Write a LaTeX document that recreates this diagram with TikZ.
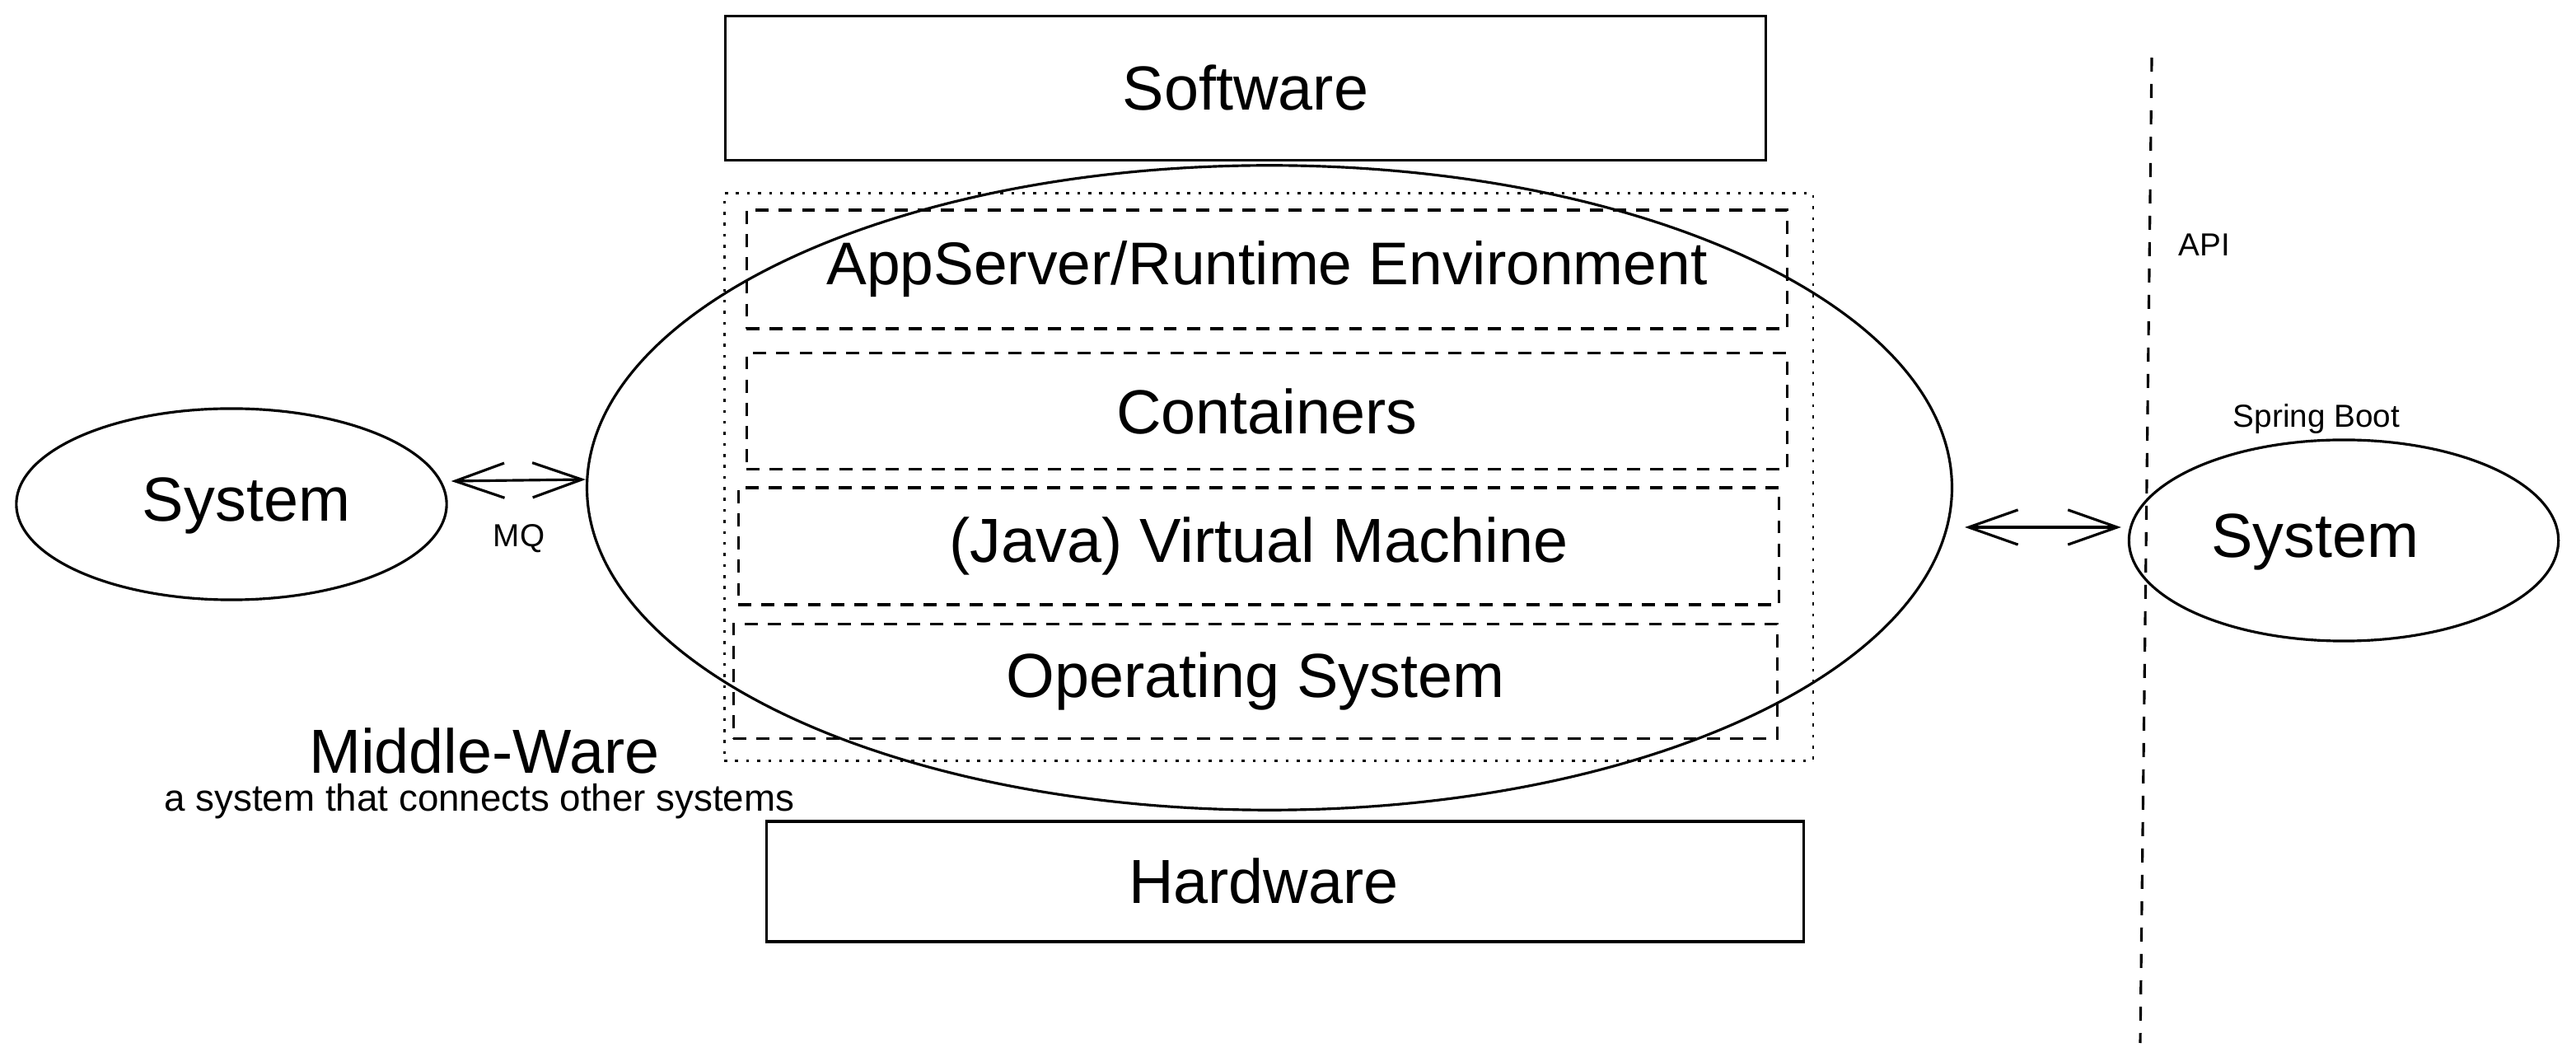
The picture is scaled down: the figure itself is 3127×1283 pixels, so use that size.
\documentclass[tikz,border=0pt]{standalone}
\usepackage{fontspec}
\setmainfont{Liberation Sans}
\usetikzlibrary{arrows.meta,calc,shapes.geometric}
\begin{document}
\begin{tikzpicture}[x=0.01cm,y=-0.01cm,
 solidbox/.style={draw,line width=0.9pt,rectangle,inner sep=0pt},
 dashbox/.style={draw,line width=0.9pt,dash pattern=on 4.5pt off 3.5pt,rectangle,inner sep=0pt},
 dotbox/.style={draw,line width=0.8pt,dash pattern=on 1pt off 2.8pt,rectangle,inner sep=0pt},
 oval/.style={draw,line width=0.9pt,ellipse,inner sep=0pt},
 bigtext/.style={font=\fontsize{21.5}{26}\selectfont},
 midtext/.style={font=\fontsize{13}{16}\selectfont},
 smalltext/.style={font=\fontsize{11}{13}\selectfont},
 conn/.style={line width=0.9pt,{Straight Barb[length=17pt,width=12pt]}-{Straight Barb[length=17pt,width=12pt]}},
 apiline/.style={line width=0.9pt,dash pattern=on 4.8pt off 4.3pt}
]
\fill[white] (0,0) rectangle (3127,1283);
\useasboundingbox (0,0) rectangle (3127,1283);

% central stack
\node[solidbox,bigtext,minimum width=12.63cm,minimum height=1.75cm] (sw) at (1512,107) {Software};
\node[dotbox,minimum width=13.21cm,minimum height=6.88cm] (outer) at (1540,579) {};
\node[dashbox,font=\fontsize{20.8}{25}\selectfont,minimum width=12.63cm,minimum height=1.44cm] (d1) at (1538,327) {AppServer/Runtime Environment};
\node[dashbox,bigtext,minimum width=12.63cm,minimum height=1.41cm] (d2) at (1538,499) {Containers};
\node[dashbox,bigtext,minimum width=12.63cm,minimum height=1.42cm] (d3) at (1528,663) {(Java) Virtual Machine};
\node[dashbox,bigtext,minimum width=12.67cm,minimum height=1.39cm] (d4) at (1524,827) {Operating System};
\node[oval,minimum width=16.56cm,minimum height=7.82cm] (mw) at (1541,592) {};
\node[solidbox,minimum width=12.59cm,minimum height=1.46cm] (hw) at (1560,1070) {};
\node[bigtext] (hwt) at (1534,1069) {Hardware};

% left system
\node[oval,minimum width=5.22cm,minimum height=2.32cm] (lsys) at (281,612) {};
\node[bigtext] (lsyst) at (299,614) {System};
\draw[conn] ($(lsys.east)+(4,-28)$) -- ($(mw.west)+(0,-10)$);
\node[smalltext] (mq) at (630,654) {MQ};

\node[bigtext] (mwt) at (588,911) {Middle-Ware};
\node[midtext] (mwsub) at (582,973) {a system that connects other systems};

% right system
\node[oval,minimum width=5.21cm,minimum height=2.44cm] (rsys) at (2845,656) {};
\node[bigtext] (rsyst) at (2810,658) {System};
\node[smalltext] (spring) at (2812,509) {Spring Boot};
\draw[conn] ($(mw.east)+(14,48)$) -- ($(rsys.west)+(-8,-16)$);

% API boundary
\coordinate (apitop) at (2612,70);
\coordinate (apibot) at (2598,1266);
\draw[apiline] (apitop) -- (apibot);
\node[smalltext] (api) at (2676,297) {API};
\end{tikzpicture}
\end{document}
